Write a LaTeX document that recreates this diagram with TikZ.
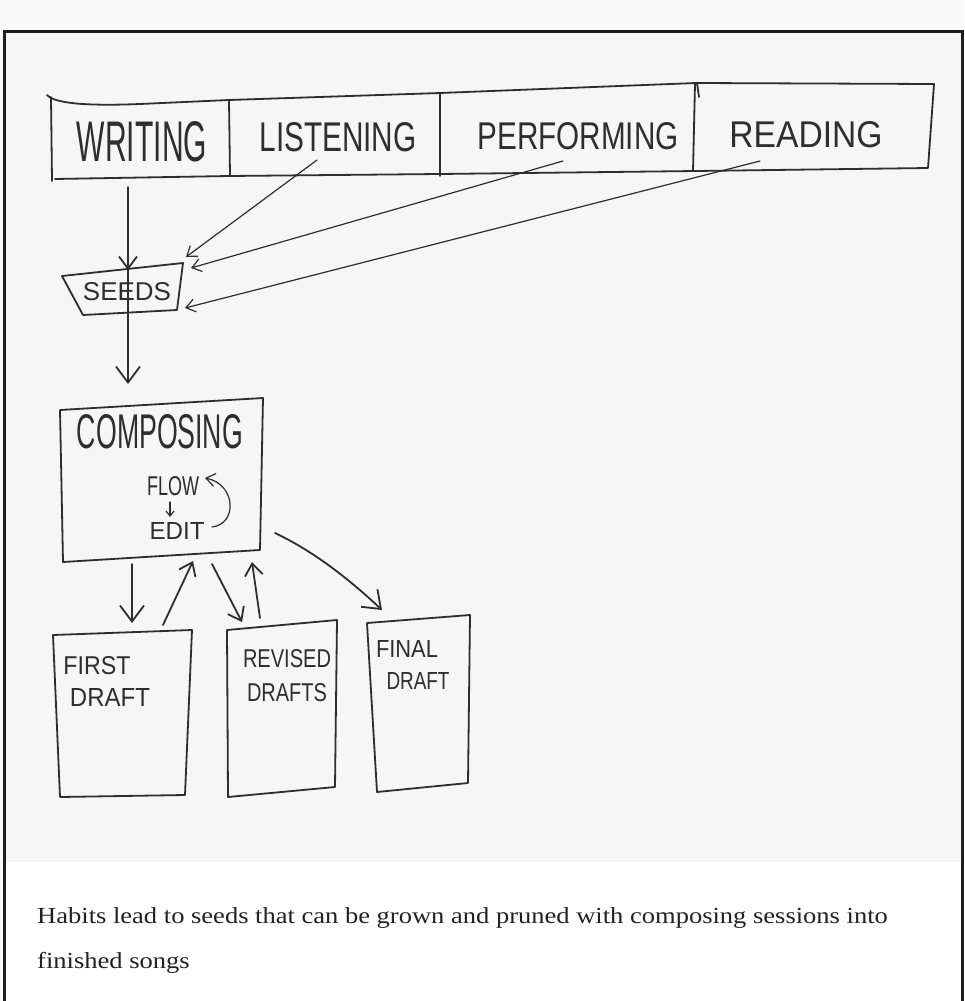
\documentclass[tikz,border=0pt]{standalone}
\usepackage{fontspec}
\usepackage{graphicx}
\setmainfont{Liberation Serif}
\newfontfamily\handfont{Liberation Sans}
\usetikzlibrary{arrows.meta}
\definecolor{ink}{HTML}{2E2E2E}
\definecolor{paper}{HTML}{F6F6F6}
\definecolor{strip}{HTML}{FAFAFA}
\definecolor{framec}{HTML}{1E1E1E}
\definecolor{capc}{HTML}{222222}
\newcommand{\handtxt}[3]{\resizebox{#1}{#2}{\handfont #3}}
\newcommand{\captxt}[1]{\scalebox{1.153}[1]{#1}}
\begin{document}
\begin{tikzpicture}[x=1pt,y=-1pt,
  pen/.style={draw=ink,line width=1.8pt,line cap=round,line join=round},
  thinpen/.style={draw=ink,line width=1.2pt,line cap=round,line join=round},
  bigtip/.style={-{Straight Barb[length=16pt,width=24pt]}},
  midtip/.style={-{Straight Barb[length=12pt,width=18pt]}},
  smalltip/.style={-{Straight Barb[length=9pt,width=13pt]}},
  hand/.style={inner sep=0pt,text=ink},
  caption/.style={anchor=base west,inner sep=0pt,text=capc,font=\fontsize{23}{28}\selectfont}]
\useasboundingbox (0,0) rectangle (964,1001);
% backgrounds
\fill[strip] (0,0) rectangle (964,1001);
\fill[paper] (4,31) rectangle (962,862);
\fill[white] (4,862) rectangle (962,1001);
\draw[framec,line width=3pt] (4,1003) -- (4,31) -- (962,31) -- (962,1003);

% habits band
\draw[pen] (47,95) .. controls (55,104) and (90,106) .. (140,104) -- (229,100) -- (440,93) -- (696,83) -- (934,84) -- (928,168)
  -- (696,171) -- (440,174) -- (229,176) -- (55,179);
\draw[pen] (51,97) -- (52,181);
\draw[pen] (229,100) -- (230,176);
\draw[pen] (440,93) -- (440,176);
\draw[pen] (697,83) -- (699,97);
\draw[pen] (695,84) -- (693,171);
\node[hand] (writing) at (142,142) {\handtxt{130pt}{40pt}{WRITING}};
\node[hand] (listening) at (338,137) {\handtxt{157pt}{29pt}{LISTENING}};
\node[hand] (performing) at (578,136) {\handtxt{201pt}{27pt}{PERFORMING}};
\node[hand] (reading) at (806,135) {\handtxt{153pt}{26pt}{READING}};

% seeds
\draw[pen] (62,276) -- (183,263) -- (177,310) -- (83,315) -- cycle;
\node[hand] (seeds) at (127,292) {\handtxt{88pt}{18pt}{SEEDS}};

% composing
\draw[pen] (60,410) -- (263,398) -- (260,550) -- (63,562) -- cycle;
\node[hand] (composing) at (160,432) {\handtxt{166pt}{34pt}{COMPOSING}};
\node[hand] (flow) at (173,486) {\handtxt{52pt}{19pt}{FLOW}};
\node[hand] (edit) at (177,531) {\handtxt{55pt}{17pt}{EDIT}};

% drafts
\draw[pen] (53,635) -- (192,630) -- (185,795) -- (60,797) -- cycle;
\node[hand] (first) at (97,666) {\handtxt{67pt}{18pt}{FIRST}};
\node[hand] (draft1) at (110,697) {\handtxt{80pt}{18pt}{DRAFT}};
\draw[pen] (227,630) -- (337,620) -- (335,787) -- (228,797) -- cycle;
\node[hand] (revised) at (287,659) {\handtxt{88pt}{18pt}{REVISED}};
\node[hand] (drafts) at (287,693) {\handtxt{80pt}{18pt}{DRAFTS}};
\draw[pen] (367,623) -- (470,615) -- (468,783) -- (377,792) -- cycle;
\node[hand] (final) at (407,649) {\handtxt{62pt}{17pt}{FINAL}};
\node[hand] (draft3) at (418,681) {\handtxt{63pt}{17pt}{DRAFT}};

% connector end points
\coordinate (wr-s) at (128,187);
\coordinate (sd-n) at (128,270);
\coordinate (co-n) at (128,384);
\coordinate (li-s) at (317,160);
\coordinate (pe-s) at (563,161);
\coordinate (re-s) at (760,161);
\coordinate (sd-ne) at (186,257);
\coordinate (sd-e1) at (191,268);
\coordinate (sd-e2) at (185,308);
\coordinate (fl-s) at (170,502);
\coordinate (ed-n) at (170,517);
\coordinate (ed-e) at (212,527);
\coordinate (fl-e) at (205,478);
\coordinate (co-s1) at (132,564);
\coordinate (fd-n1) at (132,623);
\coordinate (fd-n2) at (163,625);
\coordinate (co-s2) at (193,561);
\coordinate (co-s3) at (212,564);
\coordinate (rd-n1) at (242,622);
\coordinate (rd-n2) at (260,618);
\coordinate (co-s4) at (252,562);
\coordinate (co-se) at (275,533);
\coordinate (fi-n) at (382,610);

% connectors
\draw[pen,midtip] (wr-s) -- (sd-n);
\draw[pen,bigtip] (sd-n) -- (co-n);
\draw[thinpen,smalltip] (li-s) -- (sd-ne);
\draw[thinpen,smalltip] (pe-s) -- (sd-e1);
\draw[thinpen,smalltip] (re-s) -- (sd-e2);
\draw[thinpen,-{Straight Barb[length=5pt,width=8pt]}] (fl-s) -- (ed-n);
\draw[thinpen,smalltip] (ed-e) .. controls (238,524) and (236,484) .. (fl-e);
\draw[pen,bigtip] (co-s1) -- (fd-n1);
\draw[pen,midtip] (fd-n2) -- (co-s2);
\draw[pen,midtip] (co-s3) -- (rd-n1);
\draw[pen,midtip] (rd-n2) -- (co-s4);
\draw[pen,bigtip] (co-se) .. controls (315,552) and (350,580) .. (fi-n);

% caption
\node[caption] (cap1) at (37,923) {\captxt{Habits lead to seeds that can be grown and pruned with composing sessions into}};
\node[caption] (cap2) at (37,968) {\captxt{finished songs}};
\end{tikzpicture}
\end{document}
